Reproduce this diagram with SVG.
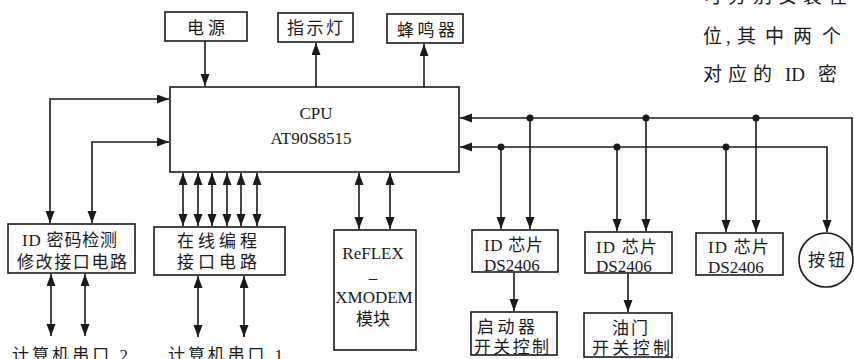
<svg xmlns="http://www.w3.org/2000/svg" width="854" height="359" viewBox="0 0 854 359">
<style>
.b{fill:#fff;stroke:#1a1a1a;stroke-width:1.6}
.t{font-family:"Liberation Serif","Noto Sans CJK SC",serif;font-size:17px;fill:#1a1a1a;dominant-baseline:central}
.c{text-anchor:middle}
.w{stroke:#1a1a1a;stroke-width:1.6;fill:none}
.e{marker-end:url(#ah)}
.s{marker-start:url(#ah)}
.d{marker-start:url(#ah);marker-end:url(#ah)}
.p{font-family:"Liberation Serif","Noto Sans CJK SC",serif;font-size:19px;fill:#1a1a1a;dominant-baseline:central}
</style>
<defs>
<marker id="ah" markerUnits="userSpaceOnUse" markerWidth="13" markerHeight="10" refX="12" refY="4.5" orient="auto-start-reverse">
<path d="M0,0 L12,4.5 L0,9 z" fill="#1a1a1a"/>
</marker>
</defs>
<rect width="854" height="359" fill="#fff"/>

<g id="para">
<text class="p" x="703" y="-4" letter-spacing="6">可分别安装在</text>
<text class="p" x="703 726 737 765 793 822" y="36">位,其中两个</text>
<text class="p" y="74"><tspan x="703" letter-spacing="6">对应的</tspan><tspan x="785">ID</tspan><tspan x="818">密</tspan></text>
</g>

<g id="connectors">
<path class="w e" d="M205,41 V86"/>
<path class="w e" d="M316,87 V43"/>
<path class="w e" d="M424,87 V44"/>
<path class="w d" d="M169,99 H50 V223"/>
<path class="w d" d="M169,142 H92 V223"/>
<path class="w d" d="M51,274 V336"/>
<path class="w d" d="M85,274 V336"/>
<path class="w d" d="M183,173 V226"/>
<path class="w d" d="M198,173 V226"/>
<path class="w d" d="M212,173 V226"/>
<path class="w d" d="M227,173 V226"/>
<path class="w d" d="M241,173 V226"/>
<path class="w d" d="M257,173 V226"/>
<path class="w d" d="M198,276 V337"/>
<path class="w d" d="M244,276 V337"/>
<path class="w d" d="M359,173 V229"/>
<path class="w d" d="M390,173 V229"/>
<path class="w s" d="M460,118 H852 V252"/>
<path class="w d" d="M460,147 H827 V232"/>
<path class="w e" d="M501,147 V229"/>
<path class="w e" d="M530,118 V229"/>
<path class="w e" d="M617,147 V231"/>
<path class="w e" d="M646,118 V231"/>
<path class="w e" d="M726,147 V232"/>
<path class="w e" d="M756,118 V232"/>
<path class="w e" d="M514,273 V311"/>
<path class="w e" d="M628,274 V312"/>
<g fill="#1a1a1a">
<circle cx="501" cy="147" r="3.5"/>
<circle cx="530" cy="118" r="3.5"/>
<circle cx="617" cy="147" r="3.5"/>
<circle cx="646" cy="118" r="3.5"/>
<circle cx="726" cy="147" r="3.5"/>
<circle cx="756" cy="118" r="3.5"/>
</g>
</g>

<g id="power">
<rect class="b" x="165" y="12" width="82" height="29"/>
<text class="t" x="187" y="28" textLength="38" lengthAdjust="spacing">电源</text>
</g>
<g id="indicator">
<rect class="b" x="278" y="13" width="75" height="29"/>
<text class="t" x="287" y="28" textLength="56" lengthAdjust="spacing">指示灯</text>
</g>
<g id="buzzer">
<rect class="b" x="387" y="14" width="76" height="29"/>
<text class="t" x="397" y="30" textLength="58" lengthAdjust="spacing">蜂鸣器</text>
</g>
<g id="cpu">
<rect class="b" x="170" y="87" width="289" height="85"/>
<text class="t c" x="316" y="113">CPU</text>
<text class="t c" x="311" y="138">AT90S8515</text>
</g>
<g id="id-check">
<rect class="b" x="8" y="224" width="127" height="49"/>
<text class="t" x="22" y="240" textLength="95" lengthAdjust="spacing">ID 密码检测</text>
<text class="t" x="17" y="262" textLength="110" lengthAdjust="spacing">修改接口电路</text>
</g>
<g id="isp">
<rect class="b" x="154" y="227" width="131" height="48"/>
<text class="t" x="177" y="241" textLength="80" lengthAdjust="spacing">在线编程</text>
<text class="t" x="177" y="262" textLength="80" lengthAdjust="spacing">接口电路</text>
</g>
<g id="reflex">
<rect class="b" x="334" y="230" width="82" height="120"/>
<text class="t c" x="373" y="253">ReFLEX</text>
<text class="t c" x="373" y="277">–</text>
<text class="t c" x="374" y="297">XMODEM</text>
<text class="t c" x="373" y="319" textLength="34" lengthAdjust="spacing">模块</text>
</g>
<g id="chip1">
<rect class="b" x="472" y="230" width="86" height="42"/>
<text class="t" x="484" y="245" textLength="59" lengthAdjust="spacing">ID 芯片</text>
<text class="t" x="484" y="265">DS2406</text>
</g>
<g id="starter">
<rect class="b" x="471" y="312" width="86" height="43"/>
<text class="t" x="477" y="327" textLength="58" lengthAdjust="spacing">启动器</text>
<text class="t" x="474" y="347" textLength="75" lengthAdjust="spacing">开关控制</text>
</g>
<g id="chip2">
<rect class="b" x="585" y="232" width="87" height="41"/>
<text class="t" x="596" y="247" textLength="61" lengthAdjust="spacing">ID 芯片</text>
<text class="t" x="596" y="266">DS2406</text>
</g>
<g id="throttle">
<rect class="b" x="584" y="313" width="88" height="44"/>
<text class="t" x="612" y="328" textLength="36" lengthAdjust="spacing">油门</text>
<text class="t" x="592" y="348" textLength="78" lengthAdjust="spacing">开关控制</text>
</g>
<g id="chip3">
<rect class="b" x="696" y="233" width="87" height="42"/>
<text class="t" x="708" y="247" textLength="61" lengthAdjust="spacing">ID 芯片</text>
<text class="t" x="708" y="267">DS2406</text>
</g>
<g id="button">
<circle class="b" cx="826" cy="260" r="27"/>
<text class="t" x="808" y="260" textLength="37" lengthAdjust="spacing">按钮</text>
</g>
<g id="serial2">
<text class="t" x="12" y="355" textLength="116" lengthAdjust="spacing">计算机串口 2</text>
</g>
<g id="serial1">
<text class="t" x="168" y="355" textLength="115" lengthAdjust="spacing">计算机串口 1</text>
</g>
</svg>
